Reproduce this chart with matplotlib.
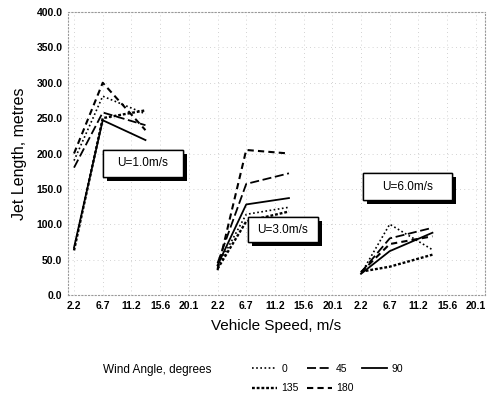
import matplotlib
matplotlib.use("Agg")
import matplotlib.pyplot as plt
from matplotlib.patches import Rectangle
from matplotlib import patheffects as pe

plt.rcParams['font.family'] = ['Liberation Sans', 'DejaVu Sans']

# ---- data ----
tick_speeds = ['2.2', '6.7', '11.2', '15.6', '20.1']
point_speeds = [2.2, 6.7, 13.4]          # vehicle speeds, m/s
wind_speeds = ['U=1.0m/s', 'U=3.0m/s', 'U=6.0m/s']
angles = ['0', '45', '90', '135', '180']

# jet length (m) for each wind angle, per wind speed group
u1_0 = [190, 281, 256]
u1_45 = [180, 258, 240]
u1_90 = [67, 247, 219]
u1_135 = [63, 250, 261]
u1_180 = [200, 300, 233]

u3_0 = [40, 114, 124]
u3_45 = [45, 157, 172]
u3_90 = [42, 128, 137]
u3_135 = [37, 104, 118]
u3_180 = [35, 205, 200]

u6_0 = [30, 100, 64]
u6_45 = [32, 80, 95]
u6_90 = [30, 62, 88]
u6_135 = [33, 40, 57]
u6_180 = [32, 72, 83]

groups = [
    [u1_0, u1_45, u1_90, u1_135, u1_180],
    [u3_0, u3_45, u3_90, u3_135, u3_180],
    [u6_0, u6_45, u6_90, u6_135, u6_180],
]

styles = {
    '0': dict(ls=(0, (1, 1.5)), lw=1.2),
    '45': dict(ls=(0, (5, 2)), lw=1.3),
    '90': dict(ls='-', lw=1.3),
    '135': dict(ls=(0, (1.2, 0.8)), lw=1.7),
    '180': dict(ls=(0, (3, 2)), lw=1.5),
}

# ---- figure ----
fig = plt.figure(figsize=(4.98, 3.99), dpi=100)
ax = fig.add_axes([68 / 498, 1 - 295 / 399, (485 - 68) / 498, (295 - 12) / 399])

step = 4.5
handles = {}
for g, series in enumerate(groups):
    xs = [g * 5 + (s - point_speeds[0]) / step for s in point_speeds]
    for a, vals in zip(angles, series):
        ln, = ax.plot(xs, vals, color='black', label=a, **styles[a])
        handles[a] = ln

ax.set_xlim(-0.21, 14.32)
ax.set_ylim(0, 400)
ax.set_xticks(range(15))
ax.set_xticklabels(tick_speeds * 3, fontsize=7.5, fontweight='bold')
ax.set_yticks(range(0, 401, 50))
ax.set_yticklabels([f'{v:.1f}' for v in range(0, 401, 50)], fontsize=7.5, fontweight='bold')
ax.tick_params(length=0)
ax.tick_params(axis='y', pad=4)
ax.tick_params(axis='x', pad=4)
ax.grid(True, ls=(0, (1, 4)), color='#c4c4c4', lw=0.6)
for sp in ax.spines.values():
    sp.set_linestyle((0, (1, 2)))
    sp.set_color('#999999')
    sp.set_linewidth(0.8)

ax.set_xlabel('Vehicle Speed, m/s', fontsize=11, labelpad=6)
ax.set_ylabel('Jet Length, metres', fontsize=11.5, labelpad=7)

# labelled boxes with shadow
boxes = [(1.01, 167, 2.79, 38), (6.06, 75, 2.44, 35), (10.07, 134, 3.10, 38)]
for (x0, y0, w, h), lab in zip(boxes, wind_speeds):
    r = Rectangle((x0, y0), w, h, facecolor='white', edgecolor='black', lw=1.0, zorder=5)
    r.set_path_effects([pe.withSimplePatchShadow(offset=(3, -3), shadow_rgbFace='black', alpha=1), pe.Normal()])
    ax.add_patch(r)
    ax.text(x0 + w / 2, y0 + h / 2, lab, ha='center', va='center', fontsize=8.5, zorder=6)

# legend
fig.text(103 / 498, 1 - 370 / 399, 'Wind Angle, degrees', fontsize=8.5, va='center', ha='left')
order = ['0', '135', '45', '180', '90']
fig.legend([handles[k] for k in order], order, loc='upper left',
           bbox_to_anchor=(252 / 498, 1 - 364 / 399), ncol=3, frameon=False,
           fontsize=7.5, handlelength=2.4, handletextpad=0.4, columnspacing=0.8,
           borderpad=0, borderaxespad=0, labelspacing=0.9)

fig.savefig('out.png', dpi=100)
